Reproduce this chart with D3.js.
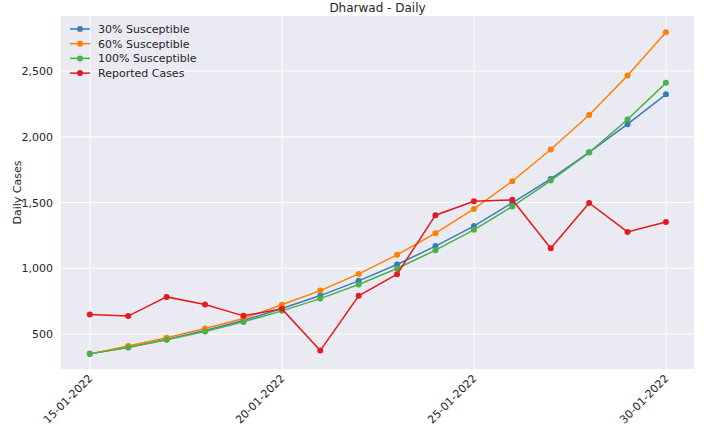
<!DOCTYPE html>
<html><head><meta charset="utf-8">
<script src="https://cdn.jsdelivr.net/npm/d3@7"></script>
<style>body{margin:0;background:#fff}svg{display:block}text{font-family:"DejaVu Sans",sans-serif;fill:#262626}</style>
</head><body><svg id="c" width="707" height="427"></svg>
<script>
const dates = ["15-01-2022","16-01-2022","17-01-2022","18-01-2022","19-01-2022","20-01-2022","21-01-2022","22-01-2022","23-01-2022","24-01-2022","25-01-2022","26-01-2022","27-01-2022","28-01-2022","29-01-2022","30-01-2022"];
const tickDates = ["15-01-2022","20-01-2022","25-01-2022","30-01-2022"];
const yTicks = [500,1000,1500,2000,2500];
const s30 = [350,400,460,527,603,695,793,905,1029,1169,1321,1498,1680,1882,2096,2323];
const s60 = [350,409,472,543,619,723,831,958,1103,1267,1452,1662,1903,2166,2465,2795];
const s100 = [350,398,457,520,593,677,770,877,999,1138,1293,1470,1667,1880,2131,2410];
const reported = [649,637,783,725,639,692,375,791,956,1404,1510,1521,1153,1497,1277,1353];
const seriesNames = ["30% Susceptible","60% Susceptible","100% Susceptible","Reported Cases"];
const colors = ["#377eb8","#ff7f00","#4daf4a","#e41a1c"];
const series = [s30,s60,s100,reported];

const svg = d3.select("#c");
const L=61,R=694,T=16,B=369;
const parse = d3.timeParse("%d-%m-%Y");
const x = d3.scaleTime().domain([parse("14-01-2022").getTime()+0.25*864e5, parse("30-01-2022").getTime()+0.73*864e5]).range([L,R]);
const y = d3.scaleLinear().domain([235,2918]).range([B,T]);

svg.append("rect").attr("x",L).attr("y",T).attr("width",R-L).attr("height",B-T).attr("fill","#eaeaf2");
const g = svg.append("g");
yTicks.forEach(v=>{
  g.append("line").attr("x1",L).attr("x2",R).attr("y1",y(v)).attr("y2",y(v)).attr("stroke","#fff").attr("stroke-width",1);
});
tickDates.forEach(d=>{
  g.append("line").attr("y1",T).attr("y2",B).attr("x1",x(parse(d))).attr("x2",x(parse(d))).attr("stroke","#fff").attr("stroke-width",1);
});
// y axis labels
const yAxis = d3.axisLeft(y).tickValues(yTicks).tickFormat(d3.format(",")).tickSize(0).tickPadding(8);
const ya = svg.append("g").attr("transform",`translate(${L},0)`).call(yAxis);
ya.select(".domain").remove();
ya.selectAll("text").attr("font-size",11).attr("font-family","DejaVu Sans").attr("fill","#262626");
const xAxis = d3.axisBottom(x).tickValues(tickDates.map(parse)).tickFormat(d3.timeFormat("%d-%m-%Y")).tickSize(0);
const xa = svg.append("g").attr("transform",`translate(0,${B})`).call(xAxis);
xa.select(".domain").remove();
xa.selectAll("text").attr("font-size",11).attr("font-family","DejaVu Sans").attr("fill","#262626")
  .attr("text-anchor","end").attr("dy",0).attr("y",0).attr("transform","translate(3,10) rotate(-45)");

series.forEach((s,i)=>{
  const line = d3.line().x((d,j)=>x(parse(dates[j]))).y(d=>y(d));
  svg.append("path").datum(s).attr("d",line).attr("fill","none").attr("stroke",colors[i]).attr("stroke-width",1.5);
  svg.append("g").selectAll("circle").data(s).join("circle")
    .attr("cx",(d,j)=>x(parse(dates[j]))).attr("cy",d=>y(d)).attr("r",3).attr("fill",colors[i]);
});

svg.append("text").attr("x",(L+R)/2).attr("y",12).attr("text-anchor","middle").attr("font-size",12).text("Dharwad - Daily");
svg.append("text").attr("transform",`translate(21,${(T+B)/2}) rotate(-90)`).attr("text-anchor","middle").attr("font-size",11).text("Daily Cases");

const lg = svg.append("g");
seriesNames.forEach((n,i)=>{
  const yy = 29 + i*14.7;
  lg.append("line").attr("x1",70).attr("x2",90).attr("y1",yy).attr("y2",yy).attr("stroke",colors[i]).attr("stroke-width",1.5);
  lg.append("circle").attr("cx",80).attr("cy",yy).attr("r",3).attr("fill",colors[i]);
  lg.append("text").attr("x",98).attr("y",yy+4).attr("font-size",11).text(n);
});
</script></body></html>
